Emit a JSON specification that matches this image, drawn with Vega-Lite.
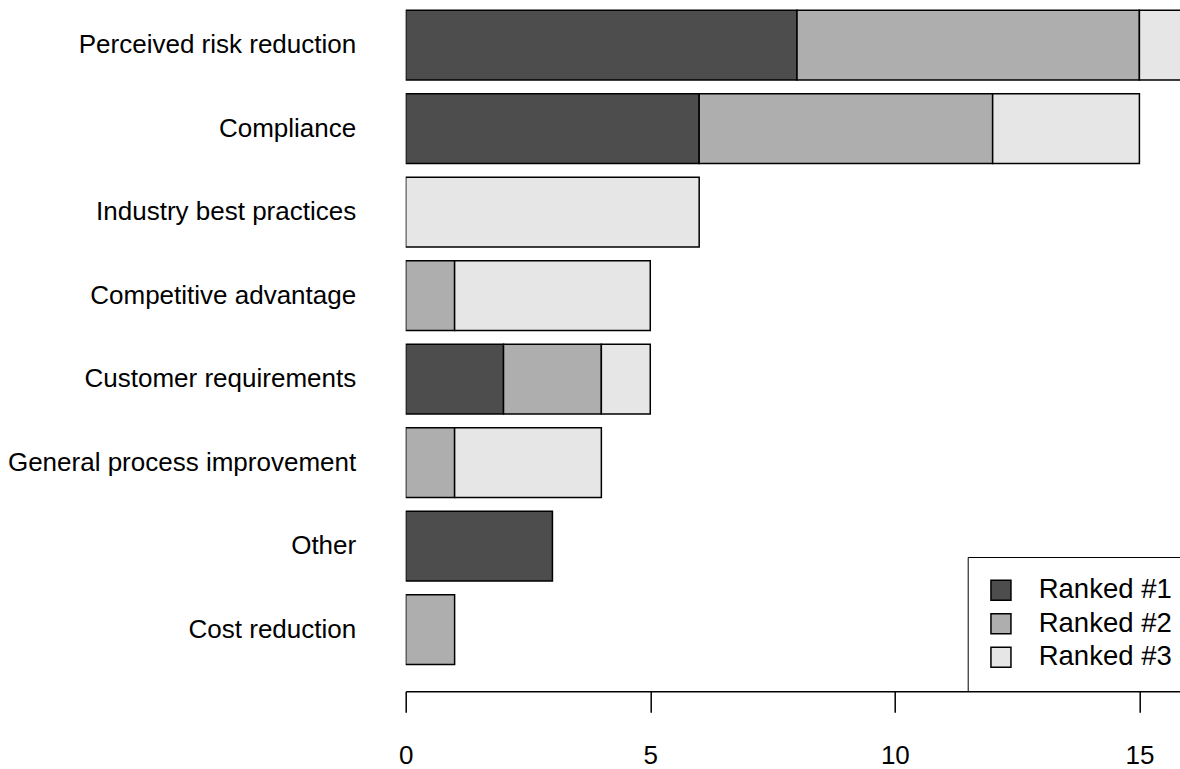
{
  "$schema": "https://vega.github.io/schema/vega-lite/v6.json",
  "autosize": {"type": "none"},
  "width": 774.3,
  "height": 691.3,
  "padding": {"left": 405.7, "top": 0, "right": 0, "bottom": 77.7},
  "background": "white",
  "config": {
    "view": {"stroke": null},
    "font": "Liberation Sans",
    "axis": {"grid": false, "labelColor": "black", "labelFont": "Liberation Sans"}
  },
  "data": {
    "values": [
      {"reason": "Perceived risk reduction", "rank": "Ranked #1", "order": 1, "count": 8},
      {"reason": "Perceived risk reduction", "rank": "Ranked #2", "order": 2, "count": 7},
      {"reason": "Perceived risk reduction", "rank": "Ranked #3", "order": 3, "count": 1},
      {"reason": "Compliance", "rank": "Ranked #1", "order": 1, "count": 6},
      {"reason": "Compliance", "rank": "Ranked #2", "order": 2, "count": 6},
      {"reason": "Compliance", "rank": "Ranked #3", "order": 3, "count": 3},
      {"reason": "Industry best practices", "rank": "Ranked #3", "order": 3, "count": 6},
      {"reason": "Competitive advantage", "rank": "Ranked #2", "order": 2, "count": 1},
      {"reason": "Competitive advantage", "rank": "Ranked #3", "order": 3, "count": 4},
      {"reason": "Customer requirements", "rank": "Ranked #1", "order": 1, "count": 2},
      {"reason": "Customer requirements", "rank": "Ranked #2", "order": 2, "count": 2},
      {"reason": "Customer requirements", "rank": "Ranked #3", "order": 3, "count": 1},
      {"reason": "General process improvement", "rank": "Ranked #2", "order": 2, "count": 1},
      {"reason": "General process improvement", "rank": "Ranked #3", "order": 3, "count": 3},
      {"reason": "Other", "rank": "Ranked #1", "order": 1, "count": 3},
      {"reason": "Cost reduction", "rank": "Ranked #2", "order": 2, "count": 1}
    ]
  },
  "mark": {"type": "bar", "stroke": "black", "strokeWidth": 1.5, "clip": true},
  "encoding": {
    "y": {
      "field": "reason",
      "type": "nominal",
      "scale": {
        "domain": ["Perceived risk reduction", "Compliance", "Industry best practices", "Competitive advantage", "Customer requirements", "General process improvement", "Other", "Cost reduction"],
        "range": [-16.5, 691.3],
        "paddingInner": 0.1667,
        "paddingOuter": 0.3217
      },
      "axis": {
        "title": null,
        "domain": false,
        "ticks": false,
        "tickSize": 0,
        "labelPadding": 50,
        "labelFontSize": 26,
        "labelLimit": 500
      }
    },
    "x": {
      "field": "count",
      "type": "quantitative",
      "stack": "zero",
      "scale": {"domain": [0, 15.83], "nice": false, "zero": true},
      "axis": {
        "title": null,
        "values": [0, 5, 10, 15],
        "domainColor": "black",
        "domainWidth": 1.5,
        "tickColor": "black",
        "tickWidth": 1.5,
        "tickSize": 21,
        "labelPadding": 30,
        "labelFontSize": 26,
        "labelFlush": false
      }
    },
    "fill": {
      "field": "rank",
      "type": "nominal",
      "scale": {"domain": ["Ranked #1", "Ranked #2", "Ranked #3"], "range": ["#4D4D4D", "#AEAEAE", "#E6E6E6"]},
      "legend": {
        "title": null,
        "orient": "none",
        "legendX": 562,
        "legendY": 557,
        "padding": 19.5,
        "fillColor": "white",
        "strokeColor": "black",
        "symbolType": "square",
        "symbolSize": 400,
        "symbolStrokeColor": "black",
        "symbolStrokeWidth": 1.5,
        "labelFontSize": 27.5,
        "labelColor": "black",
        "labelOffset": 24,
        "rowPadding": 4.5,
        "labelLimit": 300
      }
    },
    "order": {"field": "order", "type": "quantitative"}
  }
}
